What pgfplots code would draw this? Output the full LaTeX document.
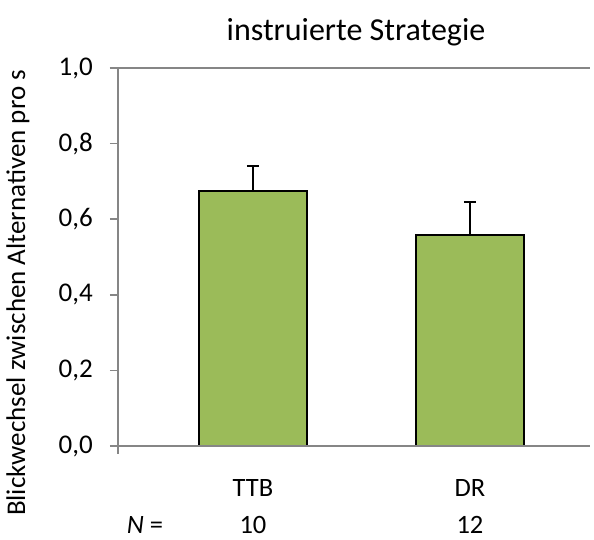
\documentclass[border=0pt]{standalone}
\usepackage{pgfplots}
\pgfplotsset{compat=1.18}
\usepackage{fontspec}
\setmainfont{Carlito}
\definecolor{barg}{HTML}{9BBB59}
\definecolor{axg}{HTML}{868686}
\begin{document}
\begin{tikzpicture}
\begin{axis}[name=ax, scale only axis, width=472pt, height=378pt,
  xmin=-0.622, xmax=1.553, ymin=0, ymax=1,
  axis x line*=bottom, axis y line*=left,
  axis line style={axg, line width=1.5pt, -},
  xtick=\empty,
  ytick={0,0.2,0.4,0.6,0.8,1},
  tick align=outside, major tick length=8pt,
  y tick style={axg, line width=1.5pt},
  yticklabel style={font=\fontsize{27}{32}\selectfont, anchor=east, inner sep=0pt, xshift=-17pt,
    /pgf/number format/.cd, fixed, fixed zerofill, precision=1, use comma},
  /pgf/number format/assume math mode=true,
  ybar, bar width=108pt, clip=false,
]
\addplot[fill=barg, draw=black, line width=1.5pt,
  error bars/.cd, y dir=plus, y explicit,
  error bar style={line width=2pt, black},
  error mark options={rotate=90, mark size=6pt, line width=2pt, black}]
  coordinates {(0,0.674) +- (0,0.066) (1,0.558) +- (0,0.087)};
\draw[axg, line width=1.5pt] ([xshift=-8pt]rel axis cs:0,1) -- (rel axis cs:1,1);
\draw[axg, line width=1.5pt] (rel axis cs:0,0) -- ([yshift=-8pt]rel axis cs:0,0);
\draw[axg, line width=1.5pt] (rel axis cs:0,0) -- (rel axis cs:1,0);
\node[font=\fontsize{26.5}{31}\selectfont] at ([yshift=-42pt]axis cs:0,0) {TTB};
\node[font=\fontsize{26.5}{31}\selectfont] at ([yshift=-42pt]axis cs:1,0) {DR};
\node[font=\fontsize{26.5}{31}\selectfont, inner sep=0pt] at ([yshift=-79pt]axis cs:0,0) {10};
\node[font=\fontsize{26.5}{31}\selectfont, inner sep=0pt] at ([yshift=-79pt]axis cs:1,0) {12};
\end{axis}
\node[font=\fontsize{26.5}{31}\selectfont, inner sep=0pt] at ([xshift=27pt,yshift=-79pt]ax.south west) {\textit{N} =};
\node[font=\fontsize{32}{38}\selectfont] at ([xshift=238pt,yshift=414pt]ax.south west) {instruierte Strategie};
\node[font=\fontsize{27}{32}\selectfont, rotate=90] at ([xshift=-100pt,yshift=153pt]ax.south west) {Blickwechsel zwischen Alternativen pro s};
\pgfresetboundingbox
\path[use as bounding box] ([xshift=-118pt,yshift=-94pt]ax.south west) rectangle ([xshift=476pt,yshift=446pt]ax.south west);
\end{tikzpicture}
\end{document}
